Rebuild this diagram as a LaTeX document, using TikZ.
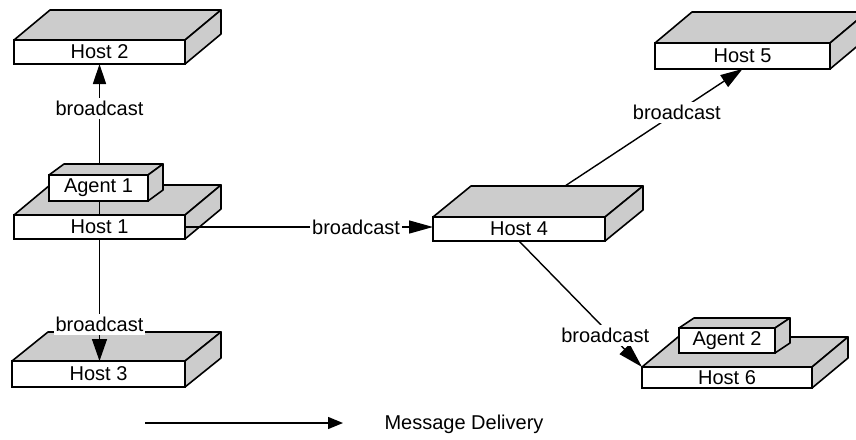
\documentclass[tikz,border=0pt]{standalone}
\usepackage{fontspec}
\setmainfont{Liberation Sans}
\usetikzlibrary{arrows.meta,calc}

\tikzset{
  txt/.style={font=\fontsize{20}{23}\selectfont},
  face/.style={txt,draw,line width=1.6pt,fill=white,rectangle,inner sep=0pt,outer sep=0pt},
  shaded/.style={fill=black!20,draw=black,line width=1.6pt,line join=round},
  link/.style={line width=1.4pt},
  tip/.style={-{Triangle[length=20pt,width=13pt]}},
  lbl/.style={txt,fill=white,inner xsep=2pt,inner ysep=3pt},
}

% slab: name, x1, y1, x2, y2 (front face), dx, dy (depth), caption
\newcommand\slab[8]{%
  \node[face,minimum width={(#4-#2)*1pt},minimum height={(#5-#3)*1pt}]
    (#1) at ({(#2+#4)/2},{(#3+#5)/2}) {#8};
  \filldraw[shaded] (#1.north west) -- ++(#6,#7) -- ($(#1.north east)+(#6,#7)$)
    -- (#1.north east) -- cycle;
  \filldraw[shaded] (#1.north east) -- ++(#6,#7) -- ($(#1.south east)+(#6,#7)$)
    -- (#1.south east) -- cycle;
}

\begin{document}
\begin{tikzpicture}[x=1pt,y=-1pt]
  \useasboundingbox (0,0) rectangle (856,439);
  \clip (0,0) rectangle (856,439);

  % hosts
  \slab{h2}{14}{40}{185}{64}{36}{-30}{Host 2}
  \slab{h1}{14}{215}{185}{239}{36}{-30}{Host 1}
  \slab{h3}{12}{361}{185}{387}{36}{-29}{Host 3}
  \slab{h4}{433}{217}{605}{241}{38}{-31}{Host 4}
  \slab{h5}{655}{43}{830}{69}{37}{-31}{Host 5}
  \slab{h6}{642}{367}{812}{388}{36}{-30}{Host 6}
  \slab{a2}{679}{328}{775}{353}{15}{-10}{Agent 2}

  % Host 1 -> Host 2 (passes behind Agent 1)
  \draw[link,tip] (h1.north) -- node[lbl,pos=0.707] (b2) {broadcast} (h2.south);
  \slab{a1}{49}{175}{148}{201}{15}{-11}{Agent 1}

  % Host 1 -> Host 3
  \draw[link,-{Triangle[length=22pt,width=15pt]}] (h1.south)
    -- node[lbl,pos=0.70] (b3) {broadcast} (h1.south |- h3.north);

  % Host 1 -> Host 4
  \draw[link,-{Triangle[length=24pt,width=13pt]}] (h1.east)
    -- node[lbl,pos=0.69] (b4) {broadcast} (h1.east -| h4.west);

  % Host 4 -> Host 5
  \coordinate (h4top) at ($(h4.north)+(46,-31)$);
  \draw[link,-{Triangle[length=22pt,width=14pt]}] (h4top)
    -- node[lbl,pos=0.63] (b5) {broadcast} (h5.south);

  % Host 4 -> Host 6
  \draw[link,-{Triangle[length=25pt,width=14pt]}] (h4.south)
    -- node[lbl,pos=0.75,xshift=-6pt] (b6) {broadcast} (h6.north west);

  % legend
  \coordinate (lgA) at (145,423);
  \coordinate (lgB) at (343,423);
  \draw[link,-{Triangle[length=15pt,width=12pt]}] (lgA) -- (lgB);
  \node[txt,anchor=west] (lgT) at (381,424) {Message Delivery};
\end{tikzpicture}
\end{document}
